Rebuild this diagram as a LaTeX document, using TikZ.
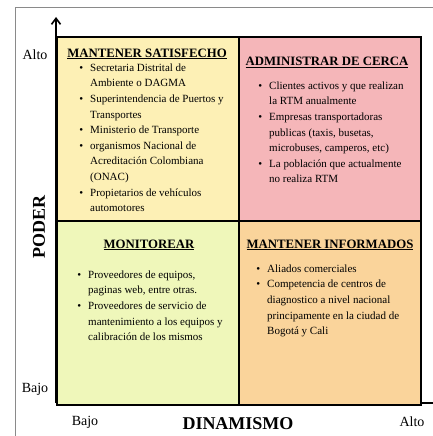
\documentclass[tikz,border=0pt]{standalone}
\usepackage{fontspec}
\setmainfont{Liberation Serif}
\usetikzlibrary{arrows.meta}
\definecolor{qyellow}{HTML}{FDF0B5}
\definecolor{qpink}{HTML}{F5B6B9}
\definecolor{qgreen}{HTML}{EFF7BA}
\definecolor{qorange}{HTML}{FAD49B}
\definecolor{framegray}{HTML}{8A8A8A}
\newcommand{\bu}{\makebox[11pt][l]{\hspace{0.2pt}\textbullet}}
\newcommand{\cn}{\hspace*{11pt}}
\begin{document}
\begin{tikzpicture}[x=1pt,y=-1pt,
  quad/.style={draw=black, line width=1.8pt, minimum width=182pt, minimum height=184pt, anchor=north west, inner sep=0pt},
  head/.style={font=\fontsize{12.8}{15}\selectfont\bfseries, inner sep=0pt, anchor=base},
  blist/.style={anchor=north west, inner sep=0pt, align=left, font=\fontsize{11}{15.6}\selectfont},
  axlab/.style={font=\fontsize{14}{16}\selectfont, inner sep=0pt},
  bigl/.style={font=\fontsize{18}{20}\selectfont\bfseries, inner sep=0pt},
  axis/.style={line width=1.6pt, -{Straight Barb[length=6pt,width=9pt]}}
]
\useasboundingbox (0,0) rectangle (433,436);
\draw[framegray, line width=0.8pt] (15,7) rectangle (450,450);
\coordinate (o) at (56,403);
\coordinate (ytip) at (56,17);
\coordinate (xtip) at (442,403);
\draw[axis] (o) -- (ytip);
\draw[axis] (o) -- (xtip);
\node[quad, fill=qyellow] (tl) at (56,36) {};
\node[quad, fill=qpink] (tr) at (238,36) {};
\node[quad, fill=qgreen] (bl) at (56,220) {};
\node[quad, fill=qorange] (br) at (238,220) {};
\node[head] (h1) at (147,57) {\underline{MANTENER SATISFECHO}};
\node[head] (h2) at (327,66) {\underline{ADMINISTRAR DE CERCA}};
\node[head] (h3) at (149,248) {\underline{MONITOREAR}};
\node[head] (h4) at (330,248) {\underline{MANTENER INFORMADOS}};
\node[blist] (l1) at (79,60.1) {\strut\bu Secretaria Distrital de\\
  \cn Ambiente o DAGMA\\
  \bu Superintendencia de Puertos y\\
  \cn Transportes\\
  \bu Ministerio de Transporte\\
  \bu organismos Nacional de\\
  \cn Acreditación Colombiana\\
  \cn (ONAC)\\
  \bu Propietarios de vehículos\\
  \cn automotores};
\node[blist] (l2) at (258,78.1) {\strut\bu Clientes activos y que realizan\\
  \cn la RTM anualmente\\
  \bu Empresas transportadoras\\
  \cn publicas (taxis, busetas,\\
  \cn microbuses, camperos, etc)\\
  \bu La población que actualmente\\
  \cn no realiza RTM};
\node[blist] (l3) at (77,267.1) {\strut\bu Proveedores de equipos,\\
  \cn paginas web, entre otras.\\
  \bu Proveedores de servicio de\\
  \cn mantenimiento a los equipos y\\
  \cn calibración de los mismos};
\node[blist] (l4) at (256,261.1) {\strut\bu Aliados comerciales\\
  \bu Competencia de centros de\\
  \cn diagnostico a nivel nacional\\
  \cn principamente en la ciudad de\\
  \cn Bogotá y Cali};
\node[axlab] (altoy) at (35,55) {Alto};
\node[axlab] (bajoy) at (35,389) {Bajo};
\node[axlab] (bajox) at (85,422) {Bajo};
\node[axlab] (altox) at (412,422) {Alto};
\node[bigl, rotate=90] (poder) at (39,227) {PODER};
\node[bigl] (dina) at (238,424) {DINAMISMO};
\end{tikzpicture}
\end{document}
